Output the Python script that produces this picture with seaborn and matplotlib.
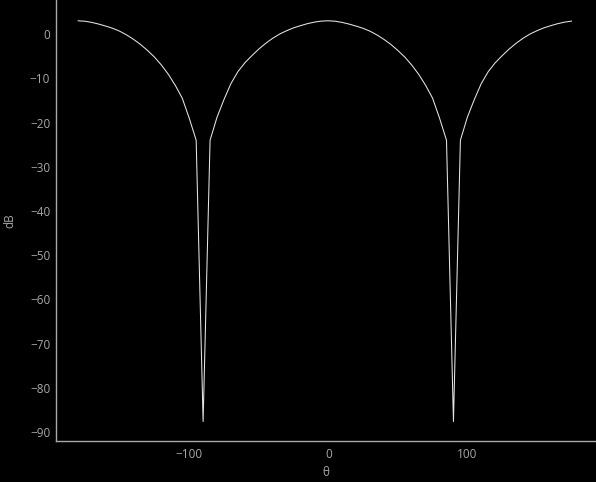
import numpy as np
import pandas as pd
import matplotlib
matplotlib.use("Agg")
import matplotlib.pyplot as plt
from matplotlib.ticker import MultipleLocator
import seaborn as sns

theta = list(range(-180, 180, 5))
db = [
    3.0, 2.9, 2.63, 2.25, 1.8, 1.3, 0.65, -0.2, -1.2, -2.35, -3.7, -5.2, -7.0, -9.1, -11.6, -14.5, -19.0, -24.0,
    -87.6,
    -24.0, -18.8, -14.8, -11.2, -8.5, -6.5, -4.9, -3.4, -2.1, -0.95, 0.0, 0.75, 1.4, 1.9, 2.35, 2.7, 2.93,
    3.0, 2.9, 2.63, 2.25, 1.8, 1.3, 0.65, -0.2, -1.2, -2.35, -3.7, -5.2, -7.0, -9.1, -11.6, -14.5, -19.0, -24.0,
    -87.6,
    -24.0, -18.8, -14.8, -11.2, -8.5, -6.5, -4.9, -3.4, -2.1, -0.95, 0.0, 0.75, 1.4, 1.9, 2.35, 2.7, 2.93,
]
y_ticks = list(range(-90, 1, 10))
x_ticks = [-100, 0, 100]
x_label = "θ"
y_label = "dB"

df = pd.DataFrame({"theta": theta, "dB": db})

sns.set_style("dark")
grey = "#a8a8a8"
plt.rcParams["font.family"] = ["Open Sans", "DejaVu Sans"]

fig = plt.figure(figsize=(5.96, 4.82), dpi=100, facecolor="black")
ax = fig.add_axes([55.7 / 596, 1 - 441 / 482, 1 - 55.7 / 596, 441 / 482])
ax.set_facecolor("black")

sns.lineplot(data=df, x="theta", y="dB", ax=ax, color="#e6e6e6", linewidth=0.75)

ax.set_xlim(-196, 192.5)
ax.set_ylim(-92, 7.7)
ax.set_xticks(x_ticks)
ax.xaxis.set_minor_locator(MultipleLocator(20))
ax.set_yticks(y_ticks)
ax.grid(False)

for s in ["top", "right"]:
    ax.spines[s].set_visible(False)
for s in ["left", "bottom"]:
    ax.spines[s].set_visible(True)
    ax.spines[s].set_color(grey)
    ax.spines[s].set_linewidth(1.0)

ax.tick_params(axis="x", which="major", direction="in", length=3, width=0.8, color=grey,
               labelcolor=grey, labelsize=8.5, pad=5)
ax.tick_params(axis="x", which="minor", direction="in", length=2, width=0.8, color=grey)
ax.tick_params(axis="y", which="major", direction="in", length=5, width=0.8, color=grey,
               labelcolor=grey, labelsize=8.5, pad=4)

ax.set_xlabel(x_label, color=grey, fontsize=8.5, labelpad=4)
ax.set_ylabel(y_label, color=grey, fontsize=8.5, labelpad=10)

fig.savefig("out.png", dpi=100, facecolor="black")
